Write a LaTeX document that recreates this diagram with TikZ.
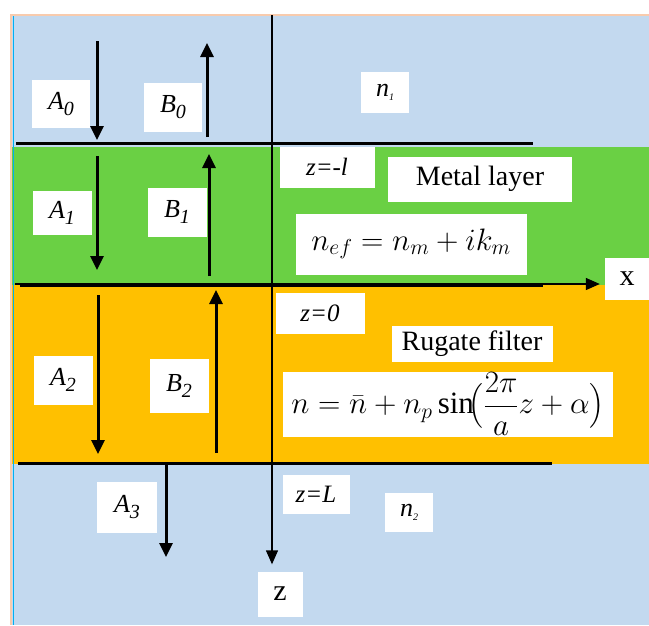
\RequirePackage{fix-cm}
\documentclass[tikz,border=0pt]{standalone}
\usepackage{amsmath}
\usepackage{fontspec}
\setmainfont{Liberation Serif}[ItalicFont={Liberation Serif Italic},BoldFont={Liberation Serif Bold}]
\usetikzlibrary{arrows.meta}
\definecolor{skyblue}{RGB}{195,217,239}
\definecolor{leafgreen}{RGB}{106,208,68}
\definecolor{amber}{RGB}{255,192,0}
\definecolor{peach}{RGB}{248,203,173}
\definecolor{cyanline}{RGB}{0,176,240}
\newcommand{\wavelab}[2]{{\fontsize{26}{26}\selectfont\itshape #1\raisebox{-0.25em}{\fontsize{20}{20}\selectfont #2}}}
\newcommand{\indexlab}[1]{{\fontsize{26}{26}\selectfont\itshape n\raisebox{-0.15em}{\fontsize{10}{10}\selectfont #1}}}
\begin{document}
\begin{tikzpicture}[x=1pt,y=-1pt,
  lbl/.style={fill=white, inner sep=0pt, align=center},
  wave/.style={line width=3pt, -{Triangle[length=14pt,width=13pt]}},
  iface/.style={line width=3pt},
  axisarrow/.style={line width=1.4pt, -{Triangle[length=14pt,width=12pt]}},
  bigtext/.style={font=\fontsize{28}{30}\selectfont},
  mathtext/.style={font=\fontsize{31}{33}\selectfont},
  coordtext/.style={font=\fontsize{25}{26}\selectfont\itshape},
  axistext/.style={font=\fontsize{30}{30}\selectfont},
]
\useasboundingbox (0,0) rectangle (649,625);
% layers
\fill[skyblue] (12,15) rectangle (649,625);
\fill[leafgreen] (12,147) rectangle (649,285);
\fill[amber] (12,285) rectangle (649,464);
\draw[peach, line width=1.5pt] (11,625) -- (11,15) -- (649,15);
\draw[cyanline, line width=1pt] (13.5,16) -- (13.5,625);

% label boxes
\node[lbl, minimum width=58pt, minimum height=48pt] (a0) at (61,104) {\wavelab{A}{0}};
\node[lbl, minimum width=58pt, minimum height=49pt] (b0) at (173,107) {\wavelab{B}{0}};
\node[lbl, minimum width=48pt, minimum height=41pt] (n1) at (385,92) {\indexlab{1}};
\node[lbl, minimum width=59pt, minimum height=44pt] (a1) at (62,213) {\wavelab{A}{1}};
\node[lbl, minimum width=59pt, minimum height=49pt] (b1) at (177,212) {\wavelab{B}{1}};
\node[lbl, coordtext, minimum width=95pt, minimum height=41pt] (zml) at (327,167) {z=-l};
\node[lbl, bigtext, minimum width=184pt, minimum height=45pt] (metal) at (480,179) {Metal layer};
\node[lbl, mathtext, minimum width=231pt, minimum height=61pt] (nef) at (411,244) {$n_{ef}=n_m+ik_m$};
\node[lbl, axistext, minimum width=44pt, minimum height=42pt] (xlab) at (627,279) {x};
\node[lbl, coordtext, minimum width=89pt, minimum height=41pt] (zzero) at (320,313) {z=0};
\node[lbl, minimum width=59pt, minimum height=49pt] (a2) at (63,380) {\wavelab{A}{2}};
\node[lbl, minimum width=59pt, minimum height=54pt] (b2) at (179,386) {\wavelab{B}{2}};
\node[lbl, bigtext, minimum width=161pt, minimum height=36pt] (rugate) at (472,344) {Rugate filter};
\node[lbl, mathtext, minimum width=330pt, minimum height=65pt] (nform) at (448,404) {$n=\bar{n}+n_p\sin\!\bigl(\dfrac{2\pi}{a}z+\alpha\bigr)$};
\node[lbl, minimum width=60pt, minimum height=51pt] (a3) at (127,507) {\wavelab{A}{3}};
\node[lbl, coordtext, minimum width=67pt, minimum height=39pt] (zL) at (316,494) {z=L};
\node[lbl, minimum width=48pt, minimum height=39pt] (n2) at (409,512) {\indexlab{2}};
\node[lbl, axistext, minimum width=45pt, minimum height=45pt] (zlab) at (280,594) {z};

% coordinates
\coordinate (ztop) at (272,15);
\coordinate (xleft) at (15,284);
\coordinate (if1a) at (16,143);
\coordinate (if1b) at (533,143);
\coordinate (if2a) at (20,285);
\coordinate (if2b) at (543,285);
\coordinate (if3a) at (18,463);
\coordinate (if3b) at (552,463);
\coordinate (a0s) at (97,41);
\coordinate (a0e) at (97,140);
\coordinate (b0s) at (207,137);
\coordinate (b0e) at (207,43);
\coordinate (a1s) at (97,156);
\coordinate (a1e) at (97,270);
\coordinate (b1s) at (209,276);
\coordinate (b1e) at (209,154);
\coordinate (a2s) at (98,295);
\coordinate (a2e) at (98,454);
\coordinate (b2s) at (216,453);
\coordinate (b2e) at (216,290);
\coordinate (a3s) at (166,463);
\coordinate (a3e) at (166,557);

% axes
\draw[axisarrow, shorten >=7pt] (ztop) -- (zlab.north -| ztop);
\draw[axisarrow, shorten >=5pt] (xleft) -- (xlab.west |- xleft);

% interfaces
\draw[iface] (if1a) -- (if1b);
\draw[iface] (if2a) -- (if2b);
\draw[iface] (if3a) -- (if3b);

% wave arrows
\draw[wave] (a0s) -- (a0e);
\draw[wave] (b0s) -- (b0e);
\draw[wave] (a1s) -- (a1e);
\draw[wave] (b1s) -- (b1e);
\draw[wave] (a2s) -- (a2e);
\draw[wave] (b2s) -- (b2e);
\draw[wave] (a3s) -- (a3e);
\end{tikzpicture}
\end{document}
